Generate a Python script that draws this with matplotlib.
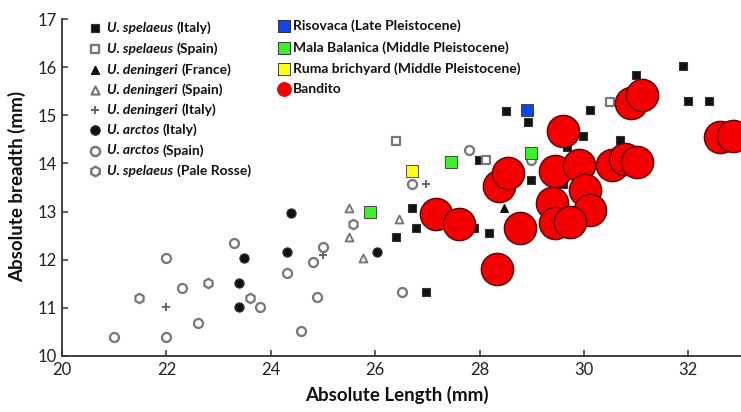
import matplotlib.pyplot as plt

plt.rcParams['font.family'] = ['Lato', 'DejaVu Sans']

# --- data (length mm, breadth mm) ---
spel_it_x = [26.40, 26.71, 26.79, 26.97, 27.90, 28.19, 27.99, 28.50, 28.93, 28.99,
             29.60, 29.68, 29.99, 30.11, 30.70, 31.00, 31.90, 31.99, 32.40]
spel_it_y = [12.47, 13.07, 12.65, 11.33, 12.65, 12.55, 14.07, 15.09, 14.87, 13.65,
             13.58, 14.35, 14.58, 15.10, 14.49, 15.84, 16.03, 15.29, 15.29]
spel_es_x = [26.40, 28.12, 30.50]
spel_es_y = [14.46, 14.07, 15.28]
den_fr_x = [28.47]
den_fr_y = [13.07]
den_es_x = [25.49, 25.49, 26.46, 25.77]
den_es_y = [13.08, 12.47, 12.85, 12.03]
den_it_x = [21.99, 26.97, 25.00]
den_it_y = [11.02, 13.57, 12.10]
arc_it_x = [23.48, 23.40, 23.40, 24.39, 24.31, 26.04]
arc_it_y = [12.04, 11.51, 11.02, 12.97, 12.17, 12.16]
arc_es_x = [21.00, 22.00, 22.00, 22.30, 22.60, 23.30, 23.79, 24.31, 24.58, 24.81,
            24.88, 25.00, 26.51, 26.71, 27.79, 28.98]
arc_es_y = [10.40, 10.40, 12.03, 11.42, 10.69, 12.34, 11.02, 11.72, 10.52, 11.95,
            11.23, 12.26, 11.32, 13.57, 14.28, 14.07]
pale_x = [21.48, 22.80, 23.61, 25.58]
pale_y = [11.20, 11.51, 11.20, 12.74]
riso_x = [28.91]
riso_y = [15.10]
mala_x = [25.90, 27.46, 28.98]
mala_y = [12.99, 14.03, 14.22]
ruma_x = [26.71]
ruma_y = [13.85]
band_x = [27.16, 27.61, 28.38, 28.54, 28.33, 28.77, 29.44, 29.59, 29.91, 30.02, 30.11,
          29.38, 29.44, 29.73, 30.53, 30.79, 31.01, 30.91, 31.12, 32.61, 32.86]
band_y = [12.95, 12.74, 13.53, 13.81, 11.80, 12.65, 13.85, 14.68, 13.96, 13.45, 13.04,
          13.17, 12.77, 12.79, 13.97, 14.09, 14.02, 15.25, 15.43, 14.54, 14.56]

W, H = 741, 412
fig = plt.figure(figsize=(W / 100, H / 100), dpi=100)
ax = fig.add_axes([62 / W, 56 / H, 679 / W, 337 / H])

gray = '#777777'
styles = [
    (spel_it_x, spel_it_y, dict(marker='s', s=36, c='#111111', edgecolors='#333333', linewidths=0.8)),
    (spel_es_x, spel_es_y, dict(marker='s', s=40, facecolors='white', edgecolors=gray, linewidths=1.6)),
    (den_fr_x, den_fr_y, dict(marker='^', s=30, c='#111111')),
    (den_es_x, den_es_y, dict(marker='^', s=32, facecolors='white', edgecolors=gray, linewidths=1.4)),
    (den_it_x, den_it_y, dict(marker='+', s=28, c='#666666', linewidths=1.4)),
    (arc_it_x, arc_it_y, dict(marker='o', s=44, c='#111111', edgecolors='#333333', linewidths=0.8)),
    (arc_es_x, arc_es_y, dict(marker='o', s=42, facecolors='white', edgecolors=gray, linewidths=1.6)),
    (pale_x, pale_y, dict(marker='h', s=46, facecolors='white', edgecolors=gray, linewidths=1.6)),
    (riso_x, riso_y, dict(marker='s', s=70, c='#1343f0', edgecolors='#333333', linewidths=0.6)),
    (mala_x, mala_y, dict(marker='s', s=70, c='#3ef02a', edgecolors='#333333', linewidths=0.6)),
    (ruma_x, ruma_y, dict(marker='s', s=70, c='#ffff10', edgecolors='#333333', linewidths=0.6)),
]
for x, y, kw in styles:
    ax.scatter(x, y, zorder=3, **kw)
ax.scatter(band_x, band_y, s=540, c='#f40000', edgecolors='#5a0000', linewidths=1.0, zorder=4)

ax.set_xlim(20, 33.01)
ax.set_ylim(10, 17)
ax.set_xticks(range(20, 33, 2))
ax.set_yticks(range(10, 18))
for side in ['top', 'right']:
    ax.spines[side].set_visible(False)
for side in ['left', 'bottom']:
    ax.spines[side].set_color('#333333')
    ax.spines[side].set_linewidth(1.3)
ax.tick_params(direction='in', length=4, width=1.1, color='#333333',
               labelsize=12, labelcolor='#222222', pad=4)

fig.text(397 / W, 1 - 395 / H, 'Absolute Length (mm)', ha='center', va='center',
         fontsize=13.5, weight='bold', color='#111111')
fig.text(17 / W, 1 - 186 / H, 'Absolute breadth (mm)', ha='center', va='center',
         rotation=90, fontsize=13.5, weight='bold', color='#111111')

# --- legends drawn by hand ---
def fx(px):
    return px / W

def fy(py):
    return 1 - py / H

renderer = fig.canvas.get_renderer()
left_rows = [
    ('U. spelaeus', '(Italy)', styles[0][2]),
    ('U. spelaeus', '(Spain)', styles[1][2]),
    ('U. deningeri', '(France)', styles[2][2]),
    ('U. deningeri', '(Spain)', styles[3][2]),
    ('U. deningeri', '(Italy)', styles[4][2]),
    ('U. arctos', '(Italy)', styles[5][2]),
    ('U. arctos', '(Spain)', styles[6][2]),
    ('U. spelaeus', '(Pale Rosse)', styles[7][2]),
]
row_y = [27.5, 49, 69.5, 89.5, 110, 130, 150.5, 171]
for (sp, place, kw), py in zip(left_rows, row_y):
    fig.add_artist(plt.scatter([fx(95)], [fy(py)], transform=fig.transFigure,
                               clip_on=False, **kw))
    t = fig.text(fx(107), fy(py), sp, style='italic', weight='bold', fontsize=10,
                 va='center', color='#111111')
    bb = t.get_window_extent(renderer)
    fig.text(fx(bb.x1 + 3.5), fy(py), place, weight='bold', fontsize=10,
             va='center', color='#111111')

right_rows = [
    ('Risovaca (Late Pleistocene)', styles[8][2]),
    ('Mala Balanica (Middle Pleistocene)', styles[9][2]),
    ('Ruma brichyard (Middle Pleistocene)', styles[10][2]),
    ('Bandito', dict(marker='o', s=88, c='#f40000', edgecolors='#f40000')),
]
row_y2 = [26, 47.5, 68.5, 89]
for (lab, kw), py in zip(right_rows, row_y2):
    kw = dict(kw)
    if kw['marker'] == 's':
        kw['s'] = 85
    fig.add_artist(plt.scatter([fx(284)], [fy(py)], transform=fig.transFigure,
                               clip_on=False, **kw))
    fig.text(fx(293), fy(py), lab, weight='bold', fontsize=10, va='center',
             color='#111111')

fig.savefig('out.png', dpi=100)
